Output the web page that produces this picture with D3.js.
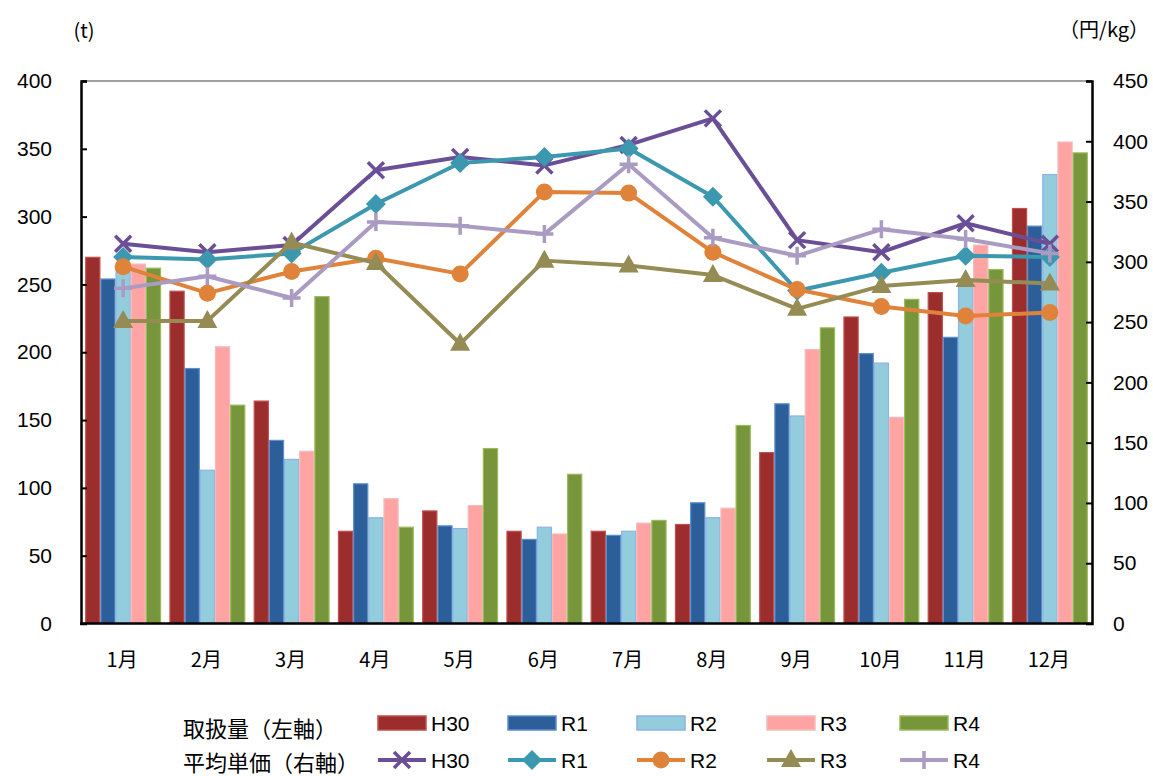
<!DOCTYPE html>
<html>
<head>
<meta charset="utf-8">
<script src="https://cdn.jsdelivr.net/npm/d3@7"></script>
<style>
body { margin: 0; background: #fff; }
text { font-family: "Liberation Sans", Arial, sans-serif; }
.jp { font-family: "Noto Sans CJK JP", sans-serif; }
</style>
</head>
<body>
<div id="chart"></div>
<script>
var months = ["1月","2月","3月","4月","5月","6月","7月","8月","9月","10月","11月","12月"];
var years = ["H30","R1","R2","R3","R4"];

// 取扱量 (t), left axis
var volH30 = [270, 245, 164, 68, 83, 68, 68, 73, 126, 226, 244, 306];
var volR1  = [254, 188, 135, 103, 72, 62, 65, 89, 162, 199, 211, 293];
var volR2  = [263, 113, 121, 78, 70, 71, 68, 78, 153, 192, 250, 331];
var volR3  = [265, 204, 127, 92, 87, 66, 74, 85, 202, 152, 279, 355];
var volR4  = [262, 161, 241, 71, 129, 110, 76, 146, 218, 239, 261, 347];

// 平均単価 (円/kg), right axis
var prcH30 = [315, 308, 314, 376, 387, 380, 397, 419, 318, 308, 332, 315];
var prcR1  = [304, 302, 307, 348, 382, 387, 394, 354, 276, 291, 305, 304];
var prcR2  = [296, 274, 292, 303, 290, 358, 357, 308, 277, 263, 255, 258];
var prcR3  = [251, 251, 316, 299, 232, 301, 297, 289, 261, 280, 285, 282];
var prcR4  = [278, 288, 270, 333, 330, 323, 381, 320, 305, 327, 319, 307];

var leftTicks = [0, 50, 100, 150, 200, 250, 300, 350, 400];
var rightTicks = [0, 50, 100, 150, 200, 250, 300, 350, 400, 450];

var volumes = [volH30, volR1, volR2, volR3, volR4];
var prices = [prcH30, prcR1, prcR2, prcR3, prcR4];

var barFill = ["#9b2d2c", "#2c5f9a", "#93cddd", "#ffa3a3", "#77953a"];
var barStroke = ["#c0504d", "#5c8fd0", "#8db3e2", "#f2bcbc", "#9bbb59"];
var lineColor = ["#6a4f96", "#3c98ae", "#df833a", "#958b55", "#a99bc1"];
var markerType = ["x", "diamond", "circle", "triangle", "plus"];

var width = 1153, height = 776;
var pLeft = 81, pRight = 1092, pTop = 81, pBottom = 623.5;

var svg = d3.select("#chart").append("svg").attr("width", width).attr("height", height);

var x0 = d3.scaleBand().domain(months).range([pLeft, pRight]).paddingInner(0.1).paddingOuter(0.05);
var x1 = d3.scaleBand().domain(years).range([0, x0.bandwidth()]);
var xc = d3.scalePoint().domain(months).range([pLeft, pRight]).padding(0.5);
var yL = d3.scaleLinear().domain([0, 400]).range([pBottom, pTop]);
var yR = d3.scaleLinear().domain([0, 450]).range([pBottom, pTop]);

// top border
svg.append("line").attr("x1", pLeft).attr("x2", pRight).attr("y1", pTop).attr("y2", pTop)
	.attr("stroke", "#404040").attr("stroke-width", 1);

// bars
years.forEach(function(yr, s) {
	svg.append("g").selectAll("rect").data(volumes[s]).enter().append("rect")
		.attr("x", function(d, i) { return x0(months[i]) + x1(yr) + 0.5; })
		.attr("y", function(d) { return yL(d); })
		.attr("width", x1.bandwidth() - 1)
		.attr("height", function(d) { return pBottom - yL(d); })
		.attr("fill", barFill[s])
		.attr("stroke", barStroke[s])
		.attr("stroke-width", 1.2);
});

// axes
var axL = svg.append("g").attr("transform", "translate(" + pLeft + ",0)")
	.call(d3.axisLeft(yL).tickValues(leftTicks).tickSize(-6).tickPadding(29));
var axR = svg.append("g").attr("transform", "translate(" + pRight + ",0)")
	.call(d3.axisRight(yR).tickValues(rightTicks).tickSize(-6).tickPadding(21));
[axL, axR].forEach(function(a) {
	a.select(".domain").attr("stroke", "#000").attr("stroke-width", 2.5);
	a.selectAll(".tick line").attr("stroke", "#000").attr("stroke-width", 2);
	a.selectAll(".tick text").attr("font-size", 21).attr("fill", "#000")
		.style("font-family", "'Liberation Sans', Arial, sans-serif");
});
svg.append("line").attr("x1", pLeft - 1).attr("x2", pRight + 1).attr("y1", pBottom).attr("y2", pBottom)
	.attr("stroke", "#000").attr("stroke-width", 2.5);

// month labels
svg.append("g").selectAll("text").data(months).enter().append("text")
	.attr("class", "jp")
	.attr("x", function(d) { return xc(d) - 1; })
	.attr("y", 667)
	.attr("text-anchor", "middle")
	.attr("font-size", 20)
	.text(function(d) { return d; });

// units
svg.append("text").attr("class", "jp").attr("x", 84).attr("y", 38).attr("text-anchor", "middle")
	.attr("font-size", 20).text("(t)");
svg.append("text").attr("class", "jp").attr("x", 1149).attr("y", 37).attr("text-anchor", "end")
	.attr("font-size", 20).text("（円/kg）");

function drawMarker(g, type, color) {
	if (type === "x") {
		g.append("path").attr("d", "M-8,-8L8,8M-8,8L8,-8").attr("stroke", color)
			.attr("stroke-width", 3.5).attr("fill", "none");
	} else if (type === "plus") {
		g.append("path").attr("d", "M-9,0L9,0M0,-9L0,9").attr("stroke", color)
			.attr("stroke-width", 3.5).attr("fill", "none");
	} else if (type === "diamond") {
		g.append("path").attr("d", "M0,-10L10,0L0,10L-10,0Z").attr("fill", color);
	} else if (type === "circle") {
		g.append("circle").attr("r", 8.5).attr("fill", color);
	} else if (type === "triangle") {
		g.append("path").attr("d", "M0,-11L10,7L-10,7Z").attr("fill", color);
	}
}

var line = d3.line()
	.x(function(d, i) { return xc(months[i]); })
	.y(function(d) { return yR(d); });

years.forEach(function(yr, s) {
	var g = svg.append("g");
	g.append("path").datum(prices[s]).attr("d", line).attr("fill", "none")
		.attr("stroke", lineColor[s]).attr("stroke-width", 4).attr("stroke-linejoin", "round");
	prices[s].forEach(function(v, i) {
		var m = g.append("g").attr("transform", "translate(" + xc(months[i]) + "," + yR(v) + ")");
		drawMarker(m, markerType[s], lineColor[s]);
	});
});

// legend
var legX = [378, 508, 637, 767, 900];
svg.append("text").attr("class", "jp").attr("x", 183).attr("y", 737).attr("font-size", 22).text("取扱量（左軸）");
svg.append("text").attr("class", "jp").attr("x", 183).attr("y", 771).attr("font-size", 22).text("平均単価（右軸）");
years.forEach(function(yr, s) {
	svg.append("rect").attr("x", legX[s]).attr("y", 716).attr("width", 48).attr("height", 14)
		.attr("fill", barFill[s]).attr("stroke", barStroke[s]).attr("stroke-width", 1.5);
	svg.append("text").attr("x", legX[s] + 53).attr("y", 731).attr("font-size", 21).text(yr);
	svg.append("line").attr("x1", legX[s]).attr("x2", legX[s] + 48).attr("y1", 760).attr("y2", 760)
		.attr("stroke", lineColor[s]).attr("stroke-width", 4);
	var m = svg.append("g").attr("transform", "translate(" + (legX[s] + 24) + ",760)");
	drawMarker(m, markerType[s], lineColor[s]);
	svg.append("text").attr("x", legX[s] + 53).attr("y", 768).attr("font-size", 21).text(yr);
});
</script>
</body>
</html>
